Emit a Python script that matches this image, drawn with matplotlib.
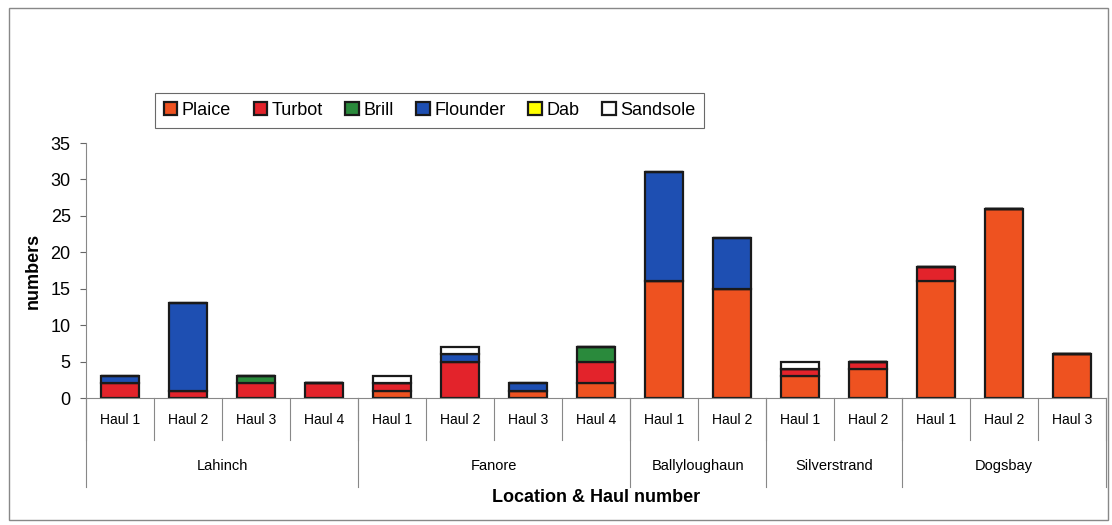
import numpy as np
import matplotlib
matplotlib.use('Agg')
import matplotlib.pyplot as plt
from matplotlib.patches import Rectangle

plt.rcParams['font.family'] = ['Liberation Sans', 'DejaVu Sans']

# ------------------------------------------------------------
# Datos
# ------------------------------------------------------------
locations = ['Lahinch', 'Fanore', 'Ballyloughaun', 'Silverstrand', 'Dogsbay']
hauls_per_location = [4, 4, 2, 2, 3]
haul_labels = ['Haul 1', 'Haul 2', 'Haul 3', 'Haul 4',
               'Haul 1', 'Haul 2', 'Haul 3', 'Haul 4',
               'Haul 1', 'Haul 2',
               'Haul 1', 'Haul 2',
               'Haul 1', 'Haul 2', 'Haul 3']

species = ['Plaice', 'Turbot', 'Brill', 'Flounder', 'Dab', 'Sandsole']
plaice   = [0, 0, 0, 0,  1, 0, 1, 2,  16, 15,  3, 4,  16, 26, 6]
turbot   = [2, 1, 2, 2,  1, 5, 0, 3,   0,  0,  1, 1,   2,  0, 0]
brill    = [0, 0, 1, 0,  0, 0, 0, 2,   0,  0,  0, 0,   0,  0, 0]
flounder = [1, 12, 0, 0, 0, 1, 1, 0,  15,  7,  0, 0,   0,  0, 0]
dab      = [0, 0, 0, 0,  0, 0, 0, 0,   0,  0,  0, 0,   0,  0, 0]
sandsole = [0, 0, 0, 0,  1, 1, 0, 0,   0,  0,  1, 0,   0,  0, 0]

colors = ['#EE5220', '#E3232B', '#2A8A3C', '#1E4FB2', '#FFFF00', '#FFFFFF']

# ------------------------------------------------------------
# Grafico
# ------------------------------------------------------------
fig = plt.figure(figsize=(11.12, 5.25), dpi=100)
ax = fig.add_axes([0.0773, 0.2419, 0.9173, 0.4857])

x = np.arange(len(haul_labels))
bottom = np.zeros(len(haul_labels))
for name, vals, col in zip(species, [plaice, turbot, brill, flounder, dab, sandsole], colors):
    vals = np.array(vals, dtype=float)
    ax.bar(x, vals, 0.56, bottom=bottom, color=col, edgecolor='#1a1a1a',
           linewidth=1.6, label=name)
    bottom += vals

ax.set_xlim(-0.5, len(haul_labels) - 0.5)
ax.set_ylim(0, 35)
ax.set_yticks(range(0, 36, 5))
ax.tick_params(axis='y', labelsize=13, direction='out', length=4, color='#666666', pad=7)
ax.set_xticks([])
for s in ['top', 'right']:
    ax.spines[s].set_visible(False)
ax.spines['left'].set_color('#888888')
ax.spines['bottom'].set_color('#888888')
ax.set_ylabel('numbers', fontsize=13, fontweight='bold', labelpad=6)

# etiquetas jerarquicas del eje x
tr = ax.get_xaxis_transform()
for i, lab in enumerate(haul_labels):
    ax.text(i, -0.086, lab, transform=tr, ha='center', va='center', fontsize=10)
for i in range(len(haul_labels) + 1):
    ax.plot([i - 0.5, i - 0.5], [0, -0.165], transform=tr, color='#888888',
            lw=0.8, clip_on=False)

edges = np.concatenate([[0], np.cumsum(hauls_per_location)])
for j, loc in enumerate(locations):
    mid = (edges[j] + edges[j + 1]) / 2 - 0.5
    ax.text(mid, -0.267, loc, transform=tr, ha='center', va='center', fontsize=10.5)
for e in edges:
    ax.plot([e - 0.5, e - 0.5], [0, -0.35], transform=tr, color='#888888',
            lw=0.8, clip_on=False)

ax.text(0.5, -0.39, 'Location & Haul number', transform=ax.transAxes,
        ha='center', va='center', fontsize=13, fontweight='bold')

leg = fig.legend(loc='upper left', bbox_to_anchor=(0.131, 0.84), ncol=6,
                 fontsize=13, frameon=True, fancybox=False, edgecolor='#444444',
                 handlelength=0.75, handleheight=0.75, handletextpad=0.25,
                 columnspacing=1.25, borderpad=0.5)
leg.get_frame().set_linewidth(0.8)

# marco del area del grafico
fig.patches.append(Rectangle((0.008, 0.01), 0.988, 0.975, transform=fig.transFigure,
                             fill=False, edgecolor='#888888', lw=1.0))

plt.savefig('out.png', dpi=100)
